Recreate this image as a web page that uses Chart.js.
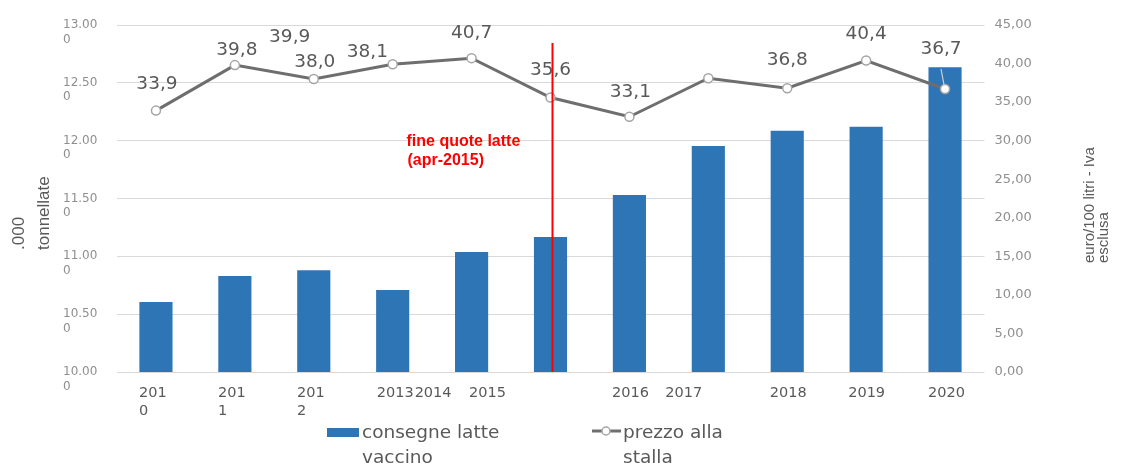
<!DOCTYPE html>
<html>
  <head>
    <title>Consegne latte vaccino e prezzo alla stalla</title>
    <script src="https://cdn.jsdelivr.net/npm/chart.js@4.4.0/dist/chart.umd.min.js"></script>
    <style>
      body {
        margin: 0;
        background: #fff;
      }

      .chart-box {
        width: 1122px;
        height: 464px;
      }
    </style>
  </head>
  <body>
    <div class="chart-box">
      <canvas id="latte-chart"></canvas>
    </div>

    <script>
      // anni e serie ('000 tonnellate, euro/100 litri)
      const categories = ["2010", "2011", "2012", "2013", "2014", "2015", "2016", "2017", "2018", "2019", "2020"];
      const consegne = [10605, 10830, 10880, 10709, 11037, 11167, 11530, 11954, 12086, 12121, 12634];
      const prezzo = [33.9, 39.8, 38.0, 39.9, 40.7, 35.6, 33.1, 38.1, 36.8, 40.4, 36.7];
      const xTickLabels = [
        ["201", "0"], ["201", "1"], ["201", "2"], ["2013"], ["2014"], ["2015"],
        ["2016"], ["2017"], ["2018"], ["2019"], ["2020"],
      ];
      const quotaIndex = 5; // fine quote latte, apr-2015

      // spostamenti (px) delle etichette, come nel grafico originale
      const priceLabelShift = [
        [1, -26], [2, -15], [1, -17], [-103, -27], [0, -25], [0, -27],
        [1, -25], [-341, -26], [0, -28], [0, -26], [-4, -40],
      ];
      const xLabelShift = [-3, -3, -3, 2.5, -38.5, -63, 1, -24.5, 1, 0.5, 1.5];

      const BLUE = "#2e75b6";
      const GREY_LINE = "#6e6e6e";
      const TEXT = "#595959";
      const SANS = '"DejaVu Sans"';

      const itNum = (v) => Math.floor(v / 1000) + "." + String(v % 1000).padStart(3, "0");

      const overlay = {
        id: "overlay",
        afterDatasetsDraw(chart) {
          const { ctx, chartArea, scales } = chart;
          const meta = chart.getDatasetMeta(1);
          ctx.save();

          // valori del prezzo
          ctx.font = "18.5px " + SANS;
          ctx.fillStyle = TEXT;
          ctx.textAlign = "center";
          ctx.textBaseline = "middle";
          meta.data.forEach((pt, i) => {
            const [dx, dy] = priceLabelShift[i];
            ctx.fillText(prezzo[i].toFixed(1).replace(".", ","), pt.x + dx, pt.y + dy);
          });

          // linea guida dell'ultima etichetta
          const last = meta.data[meta.data.length - 1];
          ctx.strokeStyle = "#d0d0d0";
          ctx.lineWidth = 1.2;
          ctx.beginPath();
          ctx.moveTo(last.x - 4, last.y - 20);
          ctx.lineTo(last.x - 1, last.y - 4);
          ctx.stroke();

          // fine quote latte
          const qx = scales.x.getPixelForValue(quotaIndex) + 2;
          ctx.strokeStyle = "#ff0000";
          ctx.lineWidth = 2;
          ctx.beginPath();
          ctx.moveTo(qx, chartArea.top + 18);
          ctx.lineTo(qx, chartArea.bottom);
          ctx.stroke();

          ctx.font = 'bold 16px "Liberation Sans"';
          ctx.fillStyle = "#ff0000";
          ctx.textAlign = "left";
          ctx.textBaseline = "alphabetic";
          ctx.fillText("fine quote latte", qx - 146, chartArea.top + 121);
          ctx.fillText("(apr-2015)", qx - 145, chartArea.top + 140);

          ctx.restore();
        },
        afterDraw(chart) {
          const { ctx, chartArea, scales } = chart;
          ctx.save();

          // etichette asse x
          ctx.font = "14.5px " + SANS;
          ctx.fillStyle = TEXT;
          ctx.textBaseline = "middle";
          xTickLabels.forEach((lines, i) => {
            const cx = scales.x.getPixelForValue(i) + xLabelShift[i];
            const y0 = chartArea.bottom + 21;
            if (lines.length > 1) {
              const left = cx - ctx.measureText(lines[0]).width / 2;
              ctx.textAlign = "left";
              lines.forEach((t, k) => ctx.fillText(t, left, y0 + k * 18));
            } else {
              ctx.textAlign = "center";
              ctx.fillText(lines[0], cx, y0);
            }
          });

          // titoli degli assi
          ctx.textAlign = "left";
          ctx.font = '17px "Liberation Sans"';
          ctx.save();
          ctx.translate(19.5, 250);
          ctx.rotate(-Math.PI / 2);
          ctx.fillText(".000", 0, 0);
          ctx.fillText("tonnellate", 0, 24.5);
          ctx.restore();

          ctx.font = '15px "Liberation Sans"';
          ctx.save();
          ctx.translate(1089.5, 263);
          ctx.rotate(-Math.PI / 2);
          ctx.fillText("euro/100 litri - Iva", 0, 0);
          ctx.fillText("esclusa", 0, 14.5);
          ctx.restore();

          // legenda
          ctx.font = "18.5px " + SANS;
          ctx.textBaseline = "alphabetic";
          ctx.fillStyle = BLUE;
          ctx.fillRect(327, 428, 32, 9);
          ctx.fillStyle = TEXT;
          ctx.fillText("consegne latte", 362, 438);
          ctx.fillText("vaccino", 362, 463);

          ctx.strokeStyle = GREY_LINE;
          ctx.lineWidth = 3;
          ctx.beginPath();
          ctx.moveTo(592, 431);
          ctx.lineTo(621, 431);
          ctx.stroke();
          ctx.beginPath();
          ctx.arc(606, 431, 4, 0, Math.PI * 2);
          ctx.fillStyle = "#fff";
          ctx.fill();
          ctx.strokeStyle = "#a5a5a5";
          ctx.lineWidth = 1.5;
          ctx.stroke();
          ctx.fillStyle = TEXT;
          ctx.fillText("prezzo alla", 623, 438);
          ctx.fillText("stalla", 623, 463);

          ctx.restore();
        },
      };

      new Chart("latte-chart", {
        type: "bar",
        data: {
          labels: categories,
          datasets: [
            {
              label: "consegne latte vaccino",
              data: consegne,
              backgroundColor: BLUE,
              yAxisID: "y",
              categoryPercentage: 1,
              barPercentage: 0.42,
              order: 2,
            },
            {
              type: "line",
              label: "prezzo alla stalla",
              data: prezzo,
              yAxisID: "y1",
              borderColor: GREY_LINE,
              borderWidth: 3,
              tension: 0,
              pointRadius: 4.5,
              pointBackgroundColor: "#fff",
              pointBorderColor: "#a5a5a5",
              pointBorderWidth: 1.5,
              order: 1,
            },
          ],
        },
        options: {
          responsive: true,
          maintainAspectRatio: false,
          animation: false,
          layout: { padding: { left: 63, right: 0, top: 25, bottom: 0 } },
          plugins: {
            legend: { display: false },
            tooltip: { enabled: false },
          },
          scales: {
            x: {
              grid: { display: false },
              border: { display: false },
              ticks: { display: false },
              afterFit(scale) {
                scale.height = 92;
              },
            },
            y: {
              position: "left",
              min: 10000,
              max: 13000,
              grid: { color: "#d9d9d9", drawTicks: false },
              border: { display: false },
              ticks: {
                stepSize: 500,
                crossAlign: "far",
                labelOffset: 7.2,
                color: "#8f8f8f",
                font: { family: "DejaVu Sans", size: 12 },
                callback: (v) => {
                  const s = itNum(v);
                  return [s.slice(0, -1), s.slice(-1)];
                },
              },
              afterFit(scale) {
                scale.width = 53.5;
              },
            },
            y1: {
              position: "right",
              min: 0,
              max: 45,
              grid: { display: false, drawTicks: false },
              border: { display: false },
              ticks: {
                stepSize: 5,
                padding: 10,
                color: "#8f8f8f",
                font: { family: "DejaVu Sans", size: 13 },
                callback: (v) => v.toFixed(2).replace(".", ","),
              },
              afterFit(scale) {
                scale.width = 137.5;
              },
            },
          },
        },
        plugins: [overlay],
      });
    </script>
  </body>
</html>
